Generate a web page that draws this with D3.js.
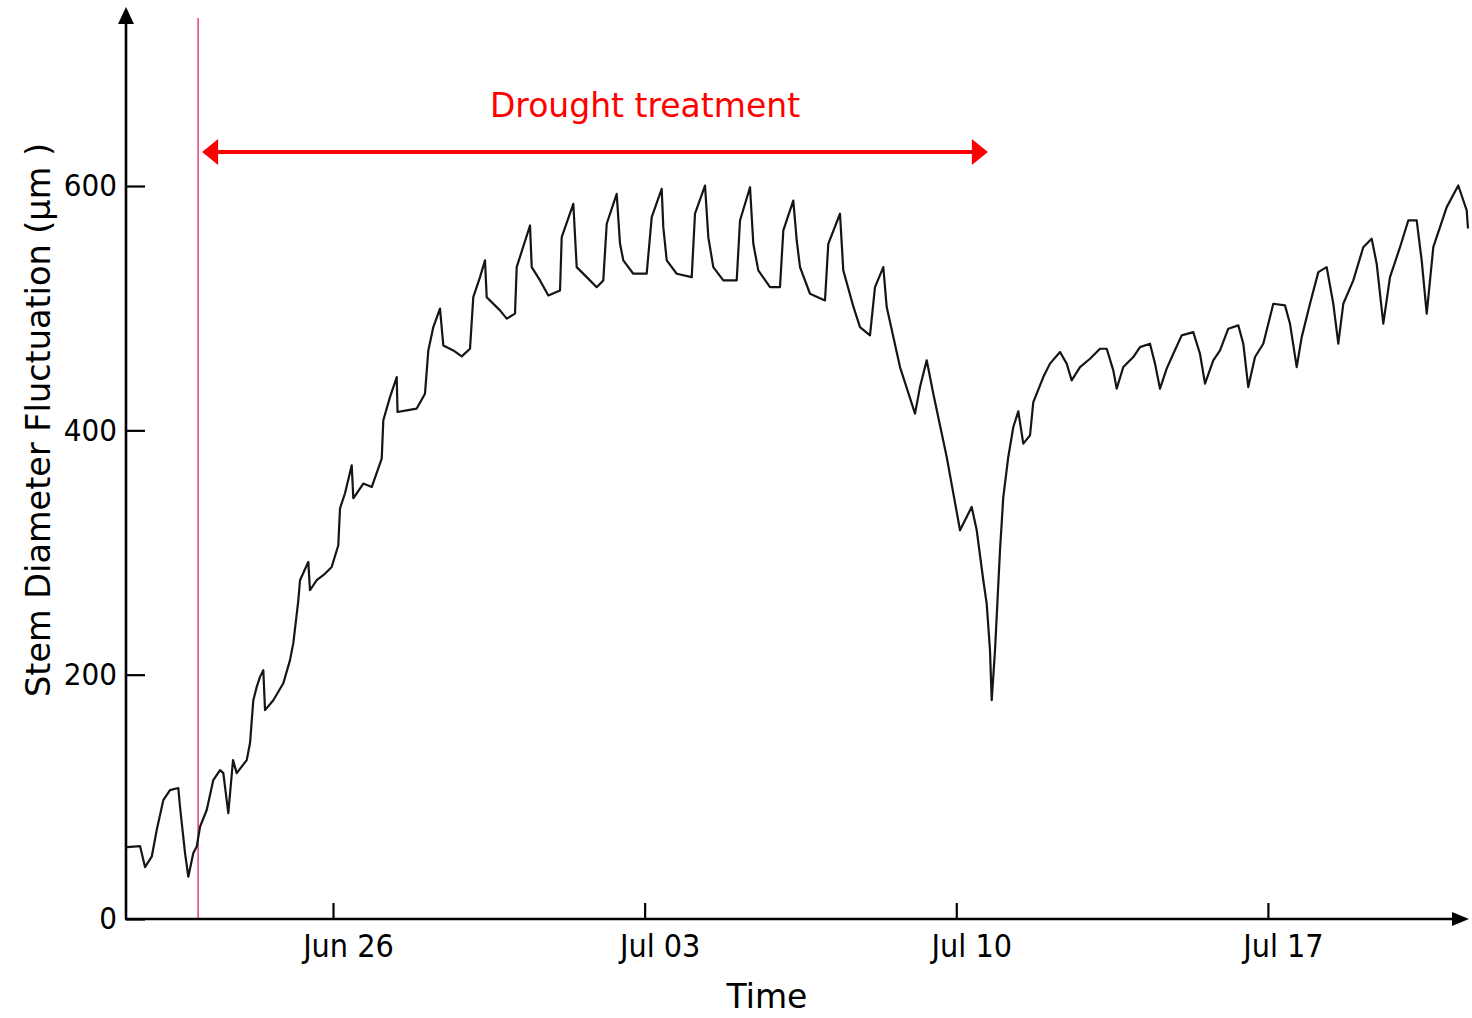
<!DOCTYPE html>
<html>
<head>
<meta charset="utf-8">
<script src="https://cdn.jsdelivr.net/npm/d3@7"></script>
<style>
  html, body { margin: 0; padding: 0; background: #fff; }
  svg text { font-family: "DejaVu Sans", sans-serif; }
</style>
</head>
<body>
<svg id="chart" width="1472" height="1018"></svg>
<script>
// ---- data (days since Jun 21 00:00, stem diameter fluctuation in µm) ----
const dayOffsets = [
  0.373,0.665,0.777,0.928,1.040,1.188,1.339,1.525,1.563,1.676,1.750,1.862,1.938,2.013,2.163,2.311,2.462,2.536,2.648,2.754,
  2.837,3.062,3.136,3.210,3.286,3.360,3.434,3.473,3.659,3.884,4.034,4.108,4.221,4.259,4.445,4.483,4.634,4.782,4.971,5.119,
  5.157,5.270,5.420,5.456,5.681,5.869,6.094,6.130,6.280,6.431,6.449,6.655,6.880,7.066,7.141,7.253,7.403,7.478,7.702,7.891,
  8.077,8.151,8.302,8.414,8.452,8.751,8.902,9.088,9.126,9.425,9.463,9.650,9.836,10.099,10.137,10.398,10.474,10.699,10.923,11.071,
  11.148,11.372,11.447,11.521,11.745,12.046,12.159,12.383,12.419,12.496,12.720,13.057,13.131,13.356,13.430,13.542,13.767,14.068,14.142,14.367,
  14.441,14.553,14.816,15.040,15.115,15.339,15.416,15.490,15.714,16.051,16.125,16.388,16.462,16.687,16.837,17.062,17.174,17.361,17.437,17.736,
  18.073,18.185,18.336,18.484,18.785,19.084,19.346,19.459,19.607,19.683,19.757,19.796,19.870,19.982,20.056,20.168,20.281,20.393,20.505,20.656,
  20.730,20.955,21.105,21.330,21.480,21.592,21.779,22.004,22.228,22.379,22.527,22.603,22.752,22.976,23.127,23.351,23.464,23.576,23.726,23.875,
  24.063,24.324,24.474,24.587,24.773,24.924,25.110,25.335,25.447,25.559,25.710,25.896,26.121,26.384,26.496,26.647,26.759,26.945,27.132,27.320,
  27.469,27.581,27.693,27.918,28.142,28.331,28.443,28.592,28.742,28.967,29.153,29.342,29.454,29.567,29.715,30.016,30.276,30.465,30.494
];
const sdfValues = [
  58.9,59.7,42.5,51.0,72.8,97.3,105.5,107.2,91.9,54.0,34.6,54.0,59.1,75.5,89.2,113.7,121.9,119.4,86.7,130.1,
  119.4,130.1,144.0,179.1,190.0,198.2,203.7,171.0,179.1,193.0,211.9,225.8,260.9,277.3,292.3,269.1,277.3,281.4,288.2,305.9,
  336.2,348.5,371.4,344.4,356.4,353.6,376.8,408.2,427.2,443.6,415.0,416.4,417.8,430.0,465.4,484.5,499.6,469.5,465.4,460.5,
  466.8,509.0,525.4,539.1,509.0,498.2,491.4,495.5,533.6,567.7,533.6,522.7,510.4,514.5,558.1,585.4,533.6,525.4,517.2,522.7,
  569.1,593.6,552.7,539.1,528.2,528.2,574.5,597.7,566.3,539.1,528.2,525.4,577.3,600.4,558.1,533.6,522.7,522.7,571.8,599.0,
  552.7,530.9,517.2,517.2,563.6,588.1,555.4,533.6,511.8,506.3,552.7,577.3,530.9,501.4,484.5,477.7,517.2,533.6,500.9,451.8,
  413.7,435.4,457.3,430.0,378.2,318.2,337.3,318.2,277.3,258.2,220.0,179.1,220.0,301.8,345.4,378.2,402.7,415.5,389.1,395.9,
  423.1,443.6,454.6,464.1,454.6,440.9,451.8,458.6,466.8,466.8,449.1,434.1,451.8,460.0,468.1,470.9,454.6,434.1,450.5,462.7,
  477.7,480.4,462.7,438.2,457.3,465.4,483.2,485.9,470.9,435.4,460.0,470.9,503.6,502.3,487.3,451.8,476.3,503.6,529.5,533.6,
  503.6,470.9,503.6,522.7,549.9,556.8,536.4,487.3,525.4,549.9,571.8,571.8,539.1,495.5,549.9,582.7,600.4,580.0,565.2
];
const yTickValues = [0, 200, 400, 600];
const xTickLabels = ["2016-06-26", "2016-07-03", "2016-07-10", "2016-07-17"];
const axisDomainDays = [0.350, 30.427];       // visible time span, days since Jun 21
const treatmentDays = [1.97, 19.71];           // drought treatment start / end
const titleText = "Drought treatment";
const xTitle = "Time";
const yTitle = "Stem Diameter Fluctuation (µm )";

// ---- helpers ----
const base = new Date(2016, 5, 21, 0, 0, 0);
const toDate = d => new Date(base.getTime() + d * 86400000);
const parse = d3.timeParse("%Y-%m-%d");
const condensed = "DejaVu Sans Condensed, DejaVu Sans, sans-serif";

const svg = d3.select("#chart");
const x0 = 126, x1 = 1465, yBase = 919;

const x = d3.scaleTime().domain(axisDomainDays.map(toDate)).range([x0, x1]);
const y = d3.scaleLinear().domain([0, 600]).range([yBase, 186]);

const data = dayOffsets.map((d, i) => ({ t: toDate(d), v: sdfValues[i] }));

// treatment start marker (vertical pink line)
svg.append("line")
  .attr("x1", x(toDate(treatmentDays[0]))).attr("x2", x(toDate(treatmentDays[0])))
  .attr("y1", 18).attr("y2", yBase)
  .attr("stroke", "#e8497e").attr("stroke-width", 1.6);

// series line
svg.append("path")
  .datum(data)
  .attr("fill", "none")
  .attr("stroke", "#151515")
  .attr("stroke-width", 2.2)
  .attr("stroke-linejoin", "round")
  .attr("d", d3.line().x(d => x(d.t)).y(d => y(d.v)));

// Y axis
const yAxis = svg.append("g")
  .attr("transform", `translate(${x0},0)`)
  .call(d3.axisLeft(y).tickValues(yTickValues).tickSize(-19).tickPadding(9).tickFormat(d3.format("d")));
yAxis.select(".domain").remove();
yAxis.selectAll(".tick line").attr("stroke", "#000").attr("stroke-width", 2.2);
yAxis.selectAll(".tick text").attr("font-size", 31).attr("fill", "#000")
  .attr("font-family", condensed).style("font-stretch", "condensed");

// X axis
const xAxis = svg.append("g")
  .attr("transform", `translate(0,${yBase})`)
  .call(d3.axisBottom(x).tickValues(xTickLabels.map(parse)).tickSize(-16).tickPadding(12).tickFormat(d3.timeFormat("%b %d")));
xAxis.select(".domain").remove();
xAxis.selectAll(".tick line").attr("stroke", "#000").attr("stroke-width", 2.2);
xAxis.selectAll(".tick text").attr("font-size", 32).attr("fill", "#000")
  .attr("dx", 15).attr("dy", "0.8em")
  .attr("font-family", condensed).style("font-stretch", "condensed");

// axis lines with arrowheads
svg.append("line").attr("x1", x0).attr("x2", x0).attr("y1", yBase).attr("y2", 20)
  .attr("stroke", "#000").attr("stroke-width", 2.6);
svg.append("path").attr("d", `M${x0},7 L${x0 - 8},24 L${x0 + 8},24 Z`).attr("fill", "#000");
svg.append("line").attr("x1", x0 - 1).attr("x2", 1456).attr("y1", yBase).attr("y2", yBase)
  .attr("stroke", "#000").attr("stroke-width", 2.6);
svg.append("path").attr("d", `M1469,${yBase} L1452,${yBase - 7} L1452,${yBase + 7} Z`).attr("fill", "#000");

// drought treatment arrow
const ax0 = x(toDate(treatmentDays[0])) + 4, ax1 = x(toDate(treatmentDays[1]));
const ay = 152;
svg.append("line").attr("x1", ax0 + 10).attr("x2", ax1 - 10).attr("y1", ay).attr("y2", ay)
  .attr("stroke", "#ff0000").attr("stroke-width", 4);
svg.append("path").attr("d", `M${ax0},${ay} L${ax0 + 16},${ay - 13} L${ax0 + 16},${ay + 13} Z`).attr("fill", "#ff0000");
svg.append("path").attr("d", `M${ax1},${ay} L${ax1 - 16},${ay - 13} L${ax1 - 16},${ay + 13} Z`).attr("fill", "#ff0000");
svg.append("text").attr("x", 645).attr("y", 117)
  .attr("text-anchor", "middle").attr("font-size", 33).attr("fill", "#ff0000")
  .text(titleText);

// axis titles
svg.append("text").attr("x", 767).attr("y", 1008)
  .attr("text-anchor", "middle").attr("font-size", 33).attr("fill", "#000")
  .text(xTitle);
svg.append("text").attr("transform", "translate(50,420) rotate(-90)")
  .attr("text-anchor", "middle").attr("font-size", 33.5).attr("fill", "#000")
  .text(yTitle);
</script>
</body>
</html>
